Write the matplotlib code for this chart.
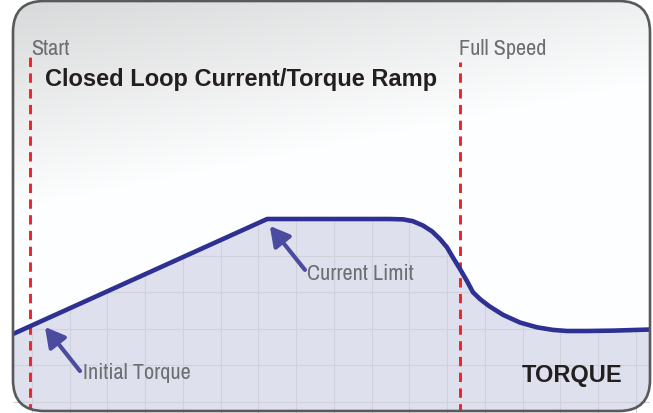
import numpy as np
import matplotlib
matplotlib.use("Agg")
import matplotlib.pyplot as plt
from matplotlib.patches import FancyBboxPatch

# curve (time and torque in grid units)
time = [-0.50, 6.23, 9.48, 9.83, 10.09, 10.36, 10.60, 10.81, 10.99, 11.15,
        11.34, 11.52, 11.68, 11.87, 12.11, 12.48, 12.93, 13.38, 13.80,
        14.17, 14.70, 15.39, 16.37]
torque = [1.86, 5.00, 5.00, 4.99, 4.94, 4.82, 4.66, 4.45, 4.23, 3.95,
          3.63, 3.31, 3.00, 2.81, 2.62, 2.38, 2.17, 2.04, 1.97,
          1.94, 1.94, 1.95, 1.98]
t_start = -0.05
t_full = 11.34

W, H = 653, 414
fig = plt.figure(figsize=(W / 100, H / 100), dpi=100)
ax = fig.add_axes([0, 0, 1, 1])
xmin, xmax = -32 / 37.75, (W - 32) / 37.75
ymin, ymax = (403 - H) / 36.6, 403 / 36.6
ax.set_xlim(xmin, xmax)
ax.set_ylim(ymin, ymax)
ax.axis("off")

narrow = ["Archivo Narrow", "Roboto Condensed", "Liberation Sans Narrow", "DejaVu Sans"]

# rounded frame, in inches so the corners stay round
box = FancyBboxPatch((0.13, 0.02), 6.37, 4.10, boxstyle="round,pad=0,rounding_size=0.31",
                     transform=fig.dpi_scale_trans, facecolor="none",
                     edgecolor="#58595b", lw=1.9, zorder=10)
ax.add_patch(box)
clip = FancyBboxPatch((0.13, 0.02), 6.37, 4.10, boxstyle="round,pad=0,rounding_size=0.31",
                      transform=fig.dpi_scale_trans, facecolor="none", edgecolor="none")
ax.add_patch(clip)

# grey gradient background
X, Y = np.meshgrid(np.arange(W), np.arange(H))
g = np.clip(0.85 + 1.4e-4 * X + 7.0e-4 * Y, 0, 1)
img = np.clip(np.dstack([g - 0.006, g - 0.003, g]), 0, 1)
bg = ax.imshow(img, extent=(xmin, xmax, ymin, ymax), origin="upper",
               aspect="auto", zorder=0, interpolation="bilinear")
bg.set_clip_path(clip)

# filled torque area
poly, = ax.fill(time + [time[-1], time[0]], torque + [ymin, ymin],
                color="#dfe0ee", lw=0, zorder=1)
poly.set_clip_path(clip)

# grid only inside the filled area
for t in range(0, 17):
    ln, = ax.plot([t, t], [ymin, ymax], color="#d0d1da", lw=0.8, zorder=2)
    ln.set_clip_path(poly)
for q in range(0, 6):
    ln, = ax.plot([xmin, xmax], [q, q], color="#d0d1da", lw=0.8, zorder=2)
    ln.set_clip_path(poly)

curve, = ax.plot(time, torque, color="#2e3192", lw=3.3, zorder=5,
                 solid_joinstyle="round", solid_capstyle="butt")
curve.set_clip_path(clip)

for t, top in [(t_start, 9.45), (t_full, 9.29)]:
    ln, = ax.plot([t, t], [ymin, top], color="#ee2229", lw=2.1,
                  dashes=(3.2, 2.2), zorder=4)
    ln.set_clip_path(clip)

grey = "#6d6e71"
lab = dict(family=narrow, fontsize=16, color=grey, ha="left", va="baseline", zorder=6)
ax.text(t_start + 0.03, 9.51, "Start", **lab)
ax.text(t_full - 0.03, 9.51, "Full Speed", **lab)
ax.text(1.35, 0.656, "Initial Torque", **lab)
ax.text(7.28, 3.36, "Current Limit", **lab)
ax.text(0.344, 8.66, "Closed Loop Current/Torque Ramp", family="Liberation Sans",
        fontweight="bold", fontsize=17, color="#231f20", ha="left", va="baseline", zorder=6)
ax.text(12.98, 0.574, "TORQUE", family="Liberation Sans", fontweight="bold",
        fontsize=17, color="#231f20", ha="left", va="baseline", zorder=6)

arrow = dict(arrowstyle="-|>,head_length=0.65,head_width=0.36", color="#4b4c9f",
             lw=3, shrinkA=0, shrinkB=0, mutation_scale=18)
ax.annotate("", xy=(0.344, 2.05), xytext=(1.27, 0.847), arrowprops=arrow, zorder=6)
ax.annotate("", xy=(6.30, 4.81), xytext=(7.23, 3.61), arrowprops=arrow, zorder=6)

fig.savefig("out.png", dpi=100, facecolor="white")
